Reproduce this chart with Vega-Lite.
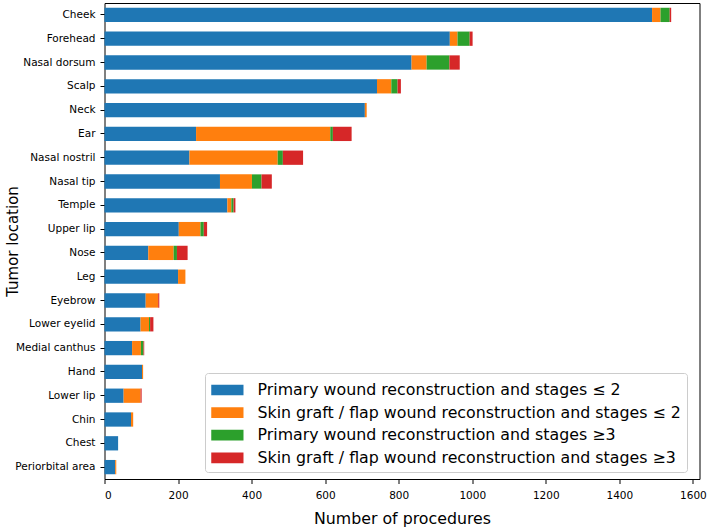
{
  "$schema": "https://vega.github.io/schema/vega-lite/v6.json",
  "autosize": {"type": "none"},
  "width": 595,
  "height": 476,
  "padding": {"left": 104.5, "top": 3, "right": 9.5, "bottom": 49},
  "background": "white",
  "config": {
    "font": "DejaVu Sans",
    "view": {"stroke": "black", "strokeWidth": 1},
    "axis": {"grid": false, "domain": false, "tickColor": "black", "labelColor": "black", "titleColor": "black", "labelFont": "DejaVu Sans", "titleFont": "DejaVu Sans", "titleFontWeight": "normal", "labelFontSize": 10.5, "titleFontSize": 15, "tickSize": 4.5, "labelPadding": 3}
  },
  "data": {
    "values": [
      {"loc": "Cheek", "type": "Primary wound reconstruction and stages ≤ 2", "k": 0, "n": 1489},
      {"loc": "Cheek", "type": "Skin graft / flap wound reconstruction and stages ≤ 2", "k": 1, "n": 23},
      {"loc": "Cheek", "type": "Primary wound reconstruction and stages ≥3", "k": 2, "n": 25},
      {"loc": "Cheek", "type": "Skin graft / flap wound reconstruction and stages ≥3", "k": 3, "n": 4},
      {"loc": "Forehead", "type": "Primary wound reconstruction and stages ≤ 2", "k": 0, "n": 939},
      {"loc": "Forehead", "type": "Skin graft / flap wound reconstruction and stages ≤ 2", "k": 1, "n": 21},
      {"loc": "Forehead", "type": "Primary wound reconstruction and stages ≥3", "k": 2, "n": 33},
      {"loc": "Forehead", "type": "Skin graft / flap wound reconstruction and stages ≥3", "k": 3, "n": 8},
      {"loc": "Nasal dorsum", "type": "Primary wound reconstruction and stages ≤ 2", "k": 0, "n": 835},
      {"loc": "Nasal dorsum", "type": "Skin graft / flap wound reconstruction and stages ≤ 2", "k": 1, "n": 41},
      {"loc": "Nasal dorsum", "type": "Primary wound reconstruction and stages ≥3", "k": 2, "n": 62},
      {"loc": "Nasal dorsum", "type": "Skin graft / flap wound reconstruction and stages ≥3", "k": 3, "n": 28},
      {"loc": "Scalp", "type": "Primary wound reconstruction and stages ≤ 2", "k": 0, "n": 741},
      {"loc": "Scalp", "type": "Skin graft / flap wound reconstruction and stages ≤ 2", "k": 1, "n": 39},
      {"loc": "Scalp", "type": "Primary wound reconstruction and stages ≥3", "k": 2, "n": 17},
      {"loc": "Scalp", "type": "Skin graft / flap wound reconstruction and stages ≥3", "k": 3, "n": 9},
      {"loc": "Neck", "type": "Primary wound reconstruction and stages ≤ 2", "k": 0, "n": 708},
      {"loc": "Neck", "type": "Skin graft / flap wound reconstruction and stages ≤ 2", "k": 1, "n": 5},
      {"loc": "Ear", "type": "Primary wound reconstruction and stages ≤ 2", "k": 0, "n": 249},
      {"loc": "Ear", "type": "Skin graft / flap wound reconstruction and stages ≤ 2", "k": 1, "n": 365},
      {"loc": "Ear", "type": "Primary wound reconstruction and stages ≥3", "k": 2, "n": 7},
      {"loc": "Ear", "type": "Skin graft / flap wound reconstruction and stages ≥3", "k": 3, "n": 51},
      {"loc": "Nasal nostril", "type": "Primary wound reconstruction and stages ≤ 2", "k": 0, "n": 231},
      {"loc": "Nasal nostril", "type": "Skin graft / flap wound reconstruction and stages ≤ 2", "k": 1, "n": 240},
      {"loc": "Nasal nostril", "type": "Primary wound reconstruction and stages ≥3", "k": 2, "n": 14},
      {"loc": "Nasal nostril", "type": "Skin graft / flap wound reconstruction and stages ≥3", "k": 3, "n": 55},
      {"loc": "Nasal tip", "type": "Primary wound reconstruction and stages ≤ 2", "k": 0, "n": 314},
      {"loc": "Nasal tip", "type": "Skin graft / flap wound reconstruction and stages ≤ 2", "k": 1, "n": 87},
      {"loc": "Nasal tip", "type": "Primary wound reconstruction and stages ≥3", "k": 2, "n": 26},
      {"loc": "Nasal tip", "type": "Skin graft / flap wound reconstruction and stages ≥3", "k": 3, "n": 28},
      {"loc": "Temple", "type": "Primary wound reconstruction and stages ≤ 2", "k": 0, "n": 334},
      {"loc": "Temple", "type": "Skin graft / flap wound reconstruction and stages ≤ 2", "k": 1, "n": 11},
      {"loc": "Temple", "type": "Primary wound reconstruction and stages ≥3", "k": 2, "n": 6},
      {"loc": "Temple", "type": "Skin graft / flap wound reconstruction and stages ≥3", "k": 3, "n": 5},
      {"loc": "Upper lip", "type": "Primary wound reconstruction and stages ≤ 2", "k": 0, "n": 202},
      {"loc": "Upper lip", "type": "Skin graft / flap wound reconstruction and stages ≤ 2", "k": 1, "n": 59},
      {"loc": "Upper lip", "type": "Primary wound reconstruction and stages ≥3", "k": 2, "n": 9},
      {"loc": "Upper lip", "type": "Skin graft / flap wound reconstruction and stages ≥3", "k": 3, "n": 9},
      {"loc": "Nose", "type": "Primary wound reconstruction and stages ≤ 2", "k": 0, "n": 119},
      {"loc": "Nose", "type": "Skin graft / flap wound reconstruction and stages ≤ 2", "k": 1, "n": 69},
      {"loc": "Nose", "type": "Primary wound reconstruction and stages ≥3", "k": 2, "n": 9},
      {"loc": "Nose", "type": "Skin graft / flap wound reconstruction and stages ≥3", "k": 3, "n": 29},
      {"loc": "Leg", "type": "Primary wound reconstruction and stages ≤ 2", "k": 0, "n": 200},
      {"loc": "Leg", "type": "Skin graft / flap wound reconstruction and stages ≤ 2", "k": 1, "n": 20},
      {"loc": "Eyebrow", "type": "Primary wound reconstruction and stages ≤ 2", "k": 0, "n": 112},
      {"loc": "Eyebrow", "type": "Skin graft / flap wound reconstruction and stages ≤ 2", "k": 1, "n": 34},
      {"loc": "Eyebrow", "type": "Skin graft / flap wound reconstruction and stages ≥3", "k": 3, "n": 3},
      {"loc": "Lower eyelid", "type": "Primary wound reconstruction and stages ≤ 2", "k": 0, "n": 98},
      {"loc": "Lower eyelid", "type": "Skin graft / flap wound reconstruction and stages ≤ 2", "k": 1, "n": 23},
      {"loc": "Lower eyelid", "type": "Primary wound reconstruction and stages ≥3", "k": 2, "n": 3},
      {"loc": "Lower eyelid", "type": "Skin graft / flap wound reconstruction and stages ≥3", "k": 3, "n": 9},
      {"loc": "Medial canthus", "type": "Primary wound reconstruction and stages ≤ 2", "k": 0, "n": 75},
      {"loc": "Medial canthus", "type": "Skin graft / flap wound reconstruction and stages ≤ 2", "k": 1, "n": 24},
      {"loc": "Medial canthus", "type": "Primary wound reconstruction and stages ≥3", "k": 2, "n": 7},
      {"loc": "Medial canthus", "type": "Skin graft / flap wound reconstruction and stages ≥3", "k": 3, "n": 2},
      {"loc": "Hand", "type": "Primary wound reconstruction and stages ≤ 2", "k": 0, "n": 102},
      {"loc": "Hand", "type": "Skin graft / flap wound reconstruction and stages ≤ 2", "k": 1, "n": 3},
      {"loc": "Lower lip", "type": "Primary wound reconstruction and stages ≤ 2", "k": 0, "n": 52},
      {"loc": "Lower lip", "type": "Skin graft / flap wound reconstruction and stages ≤ 2", "k": 1, "n": 46},
      {"loc": "Lower lip", "type": "Skin graft / flap wound reconstruction and stages ≥3", "k": 3, "n": 3},
      {"loc": "Chin", "type": "Primary wound reconstruction and stages ≤ 2", "k": 0, "n": 72},
      {"loc": "Chin", "type": "Skin graft / flap wound reconstruction and stages ≤ 2", "k": 1, "n": 6},
      {"loc": "Chest", "type": "Primary wound reconstruction and stages ≤ 2", "k": 0, "n": 37},
      {"loc": "Periorbital area", "type": "Primary wound reconstruction and stages ≤ 2", "k": 0, "n": 29},
      {"loc": "Periorbital area", "type": "Skin graft / flap wound reconstruction and stages ≤ 2", "k": 1, "n": 3}
    ]
  },
  "mark": {"type": "bar"},
  "encoding": {
    "y": {
      "field": "loc",
      "type": "nominal",
      "sort": ["Cheek", "Forehead", "Nasal dorsum", "Scalp", "Neck", "Ear", "Nasal nostril", "Nasal tip", "Temple", "Upper lip", "Nose", "Leg", "Eyebrow", "Lower eyelid", "Medial canthus", "Hand", "Lower lip", "Chin", "Chest", "Periorbital area"],
      "scale": {"paddingInner": 0.4, "paddingOuter": 0.2},
      "axis": {"title": "Tumor location", "titleX": -92, "titleY": 238, "titleAngle": -90, "titleAlign": "center", "titleBaseline": "middle", "labelLimit": 200, "labelPadding": 5}
    },
    "x": {
      "field": "n",
      "type": "quantitative",
      "stack": "zero",
      "scale": {"domain": [0, 1618], "nice": false, "zero": true},
      "axis": {"title": "Number of procedures", "titleFontSize": 15.8, "values": [0, 200, 400, 600, 800, 1000, 1200, 1400, 1600], "format": "d", "labelPadding": 7, "titleY": 44, "titleBaseline": "alphabetic", "titleX": 297.5, "titleAlign": "center"}
    },
    "color": {
      "field": "type",
      "type": "nominal",
      "scale": {
        "domain": ["Primary wound reconstruction and stages ≤ 2", "Skin graft / flap wound reconstruction and stages ≤ 2", "Primary wound reconstruction and stages ≥3", "Skin graft / flap wound reconstruction and stages ≥3"],
        "range": ["#1f77b4", "#ff7f0e", "#2ca02c", "#d62728"]
      },
      "legend": {
        "title": null,
        "orient": "none",
        "legendX": 100.5,
        "legendY": 370,
        "symbolType": "M-1,-0.5H2V0.5H-1Z",
        "symbolSize": 462,
        "symbolStrokeWidth": 0,
        "labelFontSize": 15.8,
        "labelFont": "DejaVu Sans",
        "labelColor": "black",
        "labelLimit": 600,
        "labelOffset": 24.5,
        "rowPadding": 3.6,
        "padding": 6,
        "fillColor": "white",
        "strokeColor": "#cccccc",
        "cornerRadius": 3
      }
    },
    "order": {"field": "k", "type": "quantitative"}
  }
}
